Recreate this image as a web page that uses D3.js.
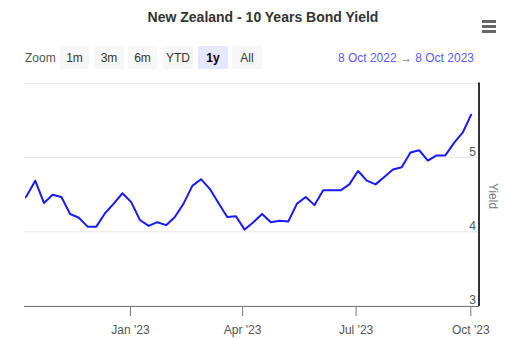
<!DOCTYPE html>
<html>
<head>
<meta charset="utf-8">
<script src="https://cdn.jsdelivr.net/npm/d3@7"></script>
<style>
  html, body { margin: 0; padding: 0; background: #fff; }
  svg { display: block; font-family: "Liberation Sans", Arial, sans-serif; }
</style>
</head>
<body>
<svg id="chart" width="510" height="339"></svg>
<script>
// Weekly New Zealand 10-year government bond yield (%), Mondays
const dates = [
  "2022-10-03","2022-10-10","2022-10-17","2022-10-24","2022-10-31","2022-11-07","2022-11-14",
  "2022-11-21","2022-11-28","2022-12-05","2022-12-12","2022-12-19","2022-12-26","2023-01-02",
  "2023-01-09","2023-01-16","2023-01-23","2023-01-30","2023-02-06","2023-02-13","2023-02-20",
  "2023-02-27","2023-03-06","2023-03-13","2023-03-20","2023-03-27","2023-04-03","2023-04-10",
  "2023-04-17","2023-04-24","2023-05-01","2023-05-08","2023-05-15","2023-05-22","2023-05-29",
  "2023-06-05","2023-06-12","2023-06-19","2023-06-26","2023-07-03","2023-07-10","2023-07-17",
  "2023-07-24","2023-07-31","2023-08-07","2023-08-14","2023-08-21","2023-08-28","2023-09-04",
  "2023-09-11","2023-09-18","2023-09-25","2023-10-02"
];
const yields = [
  4.38, 4.48, 4.69, 4.39, 4.50, 4.47, 4.24,
  4.19, 4.07, 4.07, 4.25, 4.38, 4.52, 4.40,
  4.16, 4.08, 4.13, 4.09, 4.20, 4.38, 4.62,
  4.71, 4.58, 4.39, 4.20, 4.21, 4.03, 4.13,
  4.24, 4.13, 4.15, 4.14, 4.38, 4.47, 4.36,
  4.56, 4.56, 4.56, 4.64, 4.82, 4.69, 4.64,
  4.74, 4.84, 4.87, 5.07, 5.10, 4.96, 5.03,
  5.03, 5.20, 5.34, 5.59
];
const yTicks = [3, 4, 5, 6];
const xTickDates = ["2023-01-01", "2023-04-01", "2023-07-01", "2023-10-01"];
const xTickLabels = ["Jan '23", "Apr '23", "Jul '23", "Oct '23"];
const zoomButtons = ["1m", "3m", "6m", "YTD", "1y", "All"];
const activeButton = "1y";
const rangeFrom = "8 Oct 2022";
const rangeTo = "8 Oct 2023";

const parse = d3.utcParse("%Y-%m-%d");
const series = dates.map((d, i) => ({ date: parse(d), value: yields[i] }));

const svg = d3.select("#chart");
const plot = { left: 24, right: 479, top: 83.5, bottom: 306 };

const x = d3.scaleUtc()
  .domain([parse("2022-10-08"), parse("2023-10-08")])
  .range([plot.left, plot.right]);
const y = d3.scaleLinear()
  .domain([3, 6])
  .range([plot.bottom, plot.top]);

// Title
svg.append("text")
  .attr("x", 263).attr("y", 22)
  .attr("text-anchor", "middle")
  .attr("font-size", 14).attr("font-weight", "bold")
  .attr("fill", "#333")
  .text("New Zealand - 10 Years Bond Yield");

// Context menu icon
[20, 25, 30].forEach(yy => {
  svg.append("rect")
    .attr("x", 482).attr("y", yy).attr("width", 14).attr("height", 3)
    .attr("fill", "#666");
});

// Range selector
svg.append("text")
  .attr("x", 25).attr("y", 62)
  .attr("font-size", 12).attr("fill", "#555")
  .text("Zoom");

const btnX = [60, 94, 128, 163, 198, 232];
const btnW = [29, 30, 29, 30, 30, 30];
zoomButtons.forEach((b, i) => {
  const g = svg.append("g");
  const active = b === activeButton;
  g.append("rect")
    .attr("x", btnX[i]).attr("y", 46).attr("width", btnW[i]).attr("height", 23)
    .attr("rx", 2)
    .attr("fill", active ? "#e6e6ff" : "#f7f7f7");
  g.append("text")
    .attr("x", btnX[i] + btnW[i] / 2).attr("y", 62)
    .attr("text-anchor", "middle")
    .attr("font-size", 12)
    .attr("font-weight", active ? "bold" : "normal")
    .attr("fill", active ? "#000" : "#333")
    .text(b);
});

const range = svg.append("text")
  .attr("x", 474).attr("y", 62)
  .attr("text-anchor", "end")
  .attr("font-size", 12);
range.append("tspan").attr("fill", "#5a5aff").text(rangeFrom);
range.append("tspan").attr("fill", "#666").text("  \u2192  ");
range.append("tspan").attr("fill", "#5a5aff").text(rangeTo);

// Grid lines
svg.append("g")
  .selectAll("line")
  .data(yTicks)
  .join("line")
  .attr("x1", plot.left).attr("x2", plot.right)
  .attr("y1", d => y(d)).attr("y2", d => y(d))
  .attr("stroke", "#e6e6e6").attr("stroke-width", 1);

// Y labels, drawn inside the plot above each grid line
svg.append("g")
  .selectAll("text")
  .data(yTicks.filter(d => d < 6))
  .join("text")
  .attr("x", 476).attr("y", d => y(d) - 2)
  .attr("text-anchor", "end")
  .attr("font-size", 12).attr("fill", "#555")
  .text(d => d);

// Right axis line
svg.append("line")
  .attr("x1", plot.right).attr("x2", plot.right)
  .attr("y1", plot.top - 1).attr("y2", plot.bottom)
  .attr("stroke", "#333").attr("stroke-width", 2);

// Y axis title
svg.append("text")
  .attr("transform", `translate(489,196) rotate(90)`)
  .attr("text-anchor", "middle")
  .attr("font-size", 12).attr("fill", "#777")
  .text("Yield");

// X axis
const xAxis = d3.axisBottom(x)
  .tickValues(xTickDates.map(parse))
  .tickFormat((d, i) => xTickLabels[i])
  .tickSize(10)
  .tickSizeOuter(0);

const gx = svg.append("g")
  .attr("transform", `translate(0,${plot.bottom})`)
  .call(xAxis);
gx.select(".domain").attr("stroke", "#777").attr("d", `M${plot.left},0.5H${plot.right}`);
gx.selectAll(".tick line").attr("stroke", "#777");
gx.selectAll(".tick text")
  .attr("font-size", 12).attr("fill", "#555")
  .attr("font-family", "\"Liberation Sans\", Arial, sans-serif")
  .attr("dy", 0).attr("y", 28);

// Line
svg.append("clipPath").attr("id", "plotClip")
  .append("rect")
  .attr("x", plot.left + 1).attr("y", plot.top - 5)
  .attr("width", plot.right - plot.left - 2).attr("height", plot.bottom - plot.top + 5);

const line = d3.line()
  .x(d => x(d.date))
  .y(d => y(d.value));

svg.append("path")
  .datum(series)
  .attr("clip-path", "url(#plotClip)")
  .attr("fill", "none")
  .attr("stroke", "#1a1aff")
  .attr("stroke-width", 2)
  .attr("stroke-linejoin", "round")
  .attr("d", line);
</script>
</body>
</html>
